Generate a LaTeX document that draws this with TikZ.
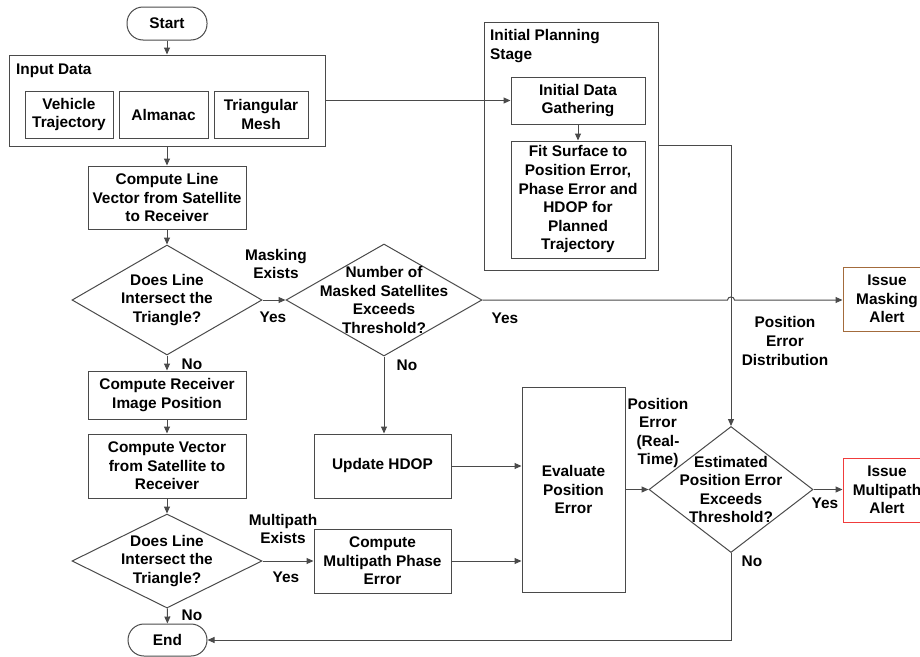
\documentclass[tikz,border=0pt]{standalone}
\usepackage{fontspec}
\setmainfont{Liberation Sans}
\usetikzlibrary{arrows.meta,shapes.geometric,calc}
\definecolor{linegray}{HTML}{4A4A4A}
\definecolor{alertbrown}{HTML}{A36B3C}
\definecolor{alertred}{HTML}{F03C3C}
\tikzset{
  every node/.style={font=\fontsize{15.4}{18.6}\selectfont\bfseries, text=black},
  box/.style={draw=linegray, line width=1pt, rectangle, inner sep=0pt, align=center},
  term/.style={draw=linegray, line width=1pt, rectangle, rounded corners=16pt, inner sep=0pt},
  decision/.style={draw=linegray, line width=1pt, diamond, inner sep=0pt},
  lbl/.style={align=center, inner sep=0pt},
  flow/.style={draw=linegray, line width=1pt, -{Triangle[length=7pt,width=6pt]}},
  plain/.style={draw=linegray, line width=1pt}
}
\begin{document}
\begin{tikzpicture}[x=1pt,y=-1pt]
\useasboundingbox (0,0) rectangle (920,656);
\clip (0,0) rectangle (920,656);

% terminals
\node[term, minimum width=80pt, minimum height=33pt] (start) at (167,23.5) {Start};
\node[term, minimum width=79pt, minimum height=32pt] (endn) at (167.5,640) {End};

% input data group
\node[box, minimum width=316pt, minimum height=91pt] (input) at (167,100.5) {};
\node[lbl, anchor=base west] (inputlbl) at (16,74) {Input Data};
\node[box, minimum width=88pt, minimum height=47pt] (veh) at (69,114.5) {Vehicle\\Trajectory};
\node[box, minimum width=89pt, minimum height=47pt] (alm) at (163.5,114.5) {Almanac};
\node[box, minimum width=94pt, minimum height=47pt] (tri) at (261,114.5) {Triangular\\Mesh};

% left column
\node[box, minimum width=158pt, minimum height=63pt] (cline) at (167,197.5) {Compute Line\\Vector from Satellite\\to Receiver};
\node[decision, minimum width=190pt, minimum height=110pt,
      label={[lbl]center:{Does Line\\Intersect the\\Triangle?}}] (d1) at (167,300) {};
\node[box, minimum width=158pt, minimum height=48pt] (recv) at (167,395) {Compute Receiver\\Image Position};
\node[box, minimum width=158pt, minimum height=64pt] (cvec) at (167,466) {Compute Vector\\from Satellite to\\Receiver};
\node[decision, minimum width=190pt, minimum height=94pt,
      label={[lbl]center:{Does Line\\Intersect the\\Triangle?}}] (d4) at (167,561) {};

% middle column
\node[decision, minimum width=196pt, minimum height=112pt,
      label={[lbl]center:{Number of\\Masked Satellites\\Exceeds\\Threshold?}}] (d2) at (384,300) {};
\node[box, minimum width=137pt, minimum height=64pt] (hdop) at (382.5,466) {Update HDOP};
\node[box, minimum width=137pt, minimum height=64pt] (mpe) at (382.5,561) {Compute\\Multipath Phase\\Error};
\node[box, minimum width=103pt, minimum height=205pt] (eval) at (573.5,489.5) {Evaluate\\Position\\Error};

% initial planning stage
\node[box, minimum width=174pt, minimum height=248pt] (ips) at (571,146) {};
\node[lbl, anchor=base west, align=left] (ipslbl) at (490,59) {Initial Planning\\Stage};
\node[box, minimum width=134pt, minimum height=47pt] (idg) at (578,100.5) {Initial Data\\Gathering};
\node[box, minimum width=134pt, minimum height=117pt] (fit) at (578,199.5) {Fit Surface to\\Position Error,\\Phase Error and\\HDOP for\\Planned\\Trajectory};

% right column
\node[decision, minimum width=164pt, minimum height=126pt,
      label={[lbl]center:{Estimated\\Position Error\\Exceeds\\Threshold?}}] (d3) at (731,489.5) {};
\node[box, draw=alertbrown, minimum width=88pt, minimum height=64pt] (mask) at (887,299) {Issue\\Masking\\Alert};
\node[box, draw=alertred, minimum width=88pt, minimum height=64pt] (mpal) at (887,490) {Issue\\Multipath\\Alert};

% connectors
\draw[flow] (start) -- (input);
\draw[flow] (input) -- (cline);
\draw[flow] (cline) -- (d1);
\draw[flow] (d1) -- (d2);
\draw[flow] (d1) -- (recv);
\draw[flow] (recv) -- (cvec);
\draw[flow] (cvec) -- (d4);
\draw[flow] (d4) -- (endn);
\draw[flow] (d4) -- (mpe);
\draw[flow] (d2.south) -- (d2.south |- hdop.north);
\draw[flow] (hdop.east) -- (hdop.east -| eval.west);
\draw[flow] (mpe.east) -- (mpe.east -| eval.west);
\draw[flow] (eval.east |- d3.west) -- (d3.west);
\draw[flow] (d3.east) -- (d3.east -| mpal.west);
\draw[flow] (d3.south) |- (endn.east);
\draw[flow] (input.east) -- (idg.west);
\draw[flow] (idg) -- (fit);
\coordinate (turn) at (d3.north |- 0,145);
\draw[flow] (ips.east |- turn) -- (turn) -- (d3.north);
% masking branch hops over the vertical connector
\draw[flow] (d2.east) -- ($(d3.north |- d2.east)+(-3.5,0)$)
  .. controls ($(d3.north |- d2.east)+(-3.5,-4)$) and ($(d3.north |- d2.east)+(3.5,-4)$)
  .. ($(d3.north |- d2.east)+(3.5,0)$) -- (mask.west |- d2.east);

% connector labels
\node[lbl] (lmask) at (276,264) {Masking\\Exists};
\node[lbl] (lyes1) at (273,317) {Yes};
\node[lbl] (lno1) at (192,364) {No};
\node[lbl] (lno2) at (407,365) {No};
\node[lbl] (lyes2) at (505,318) {Yes};
\node[lbl] (lped) at (785,341) {Position\\Error\\Distribution};
\node[lbl] (lpert) at (658,433) {Position\\Error\\(Real-\\Time)};
\node[lbl] (lyes3) at (825,503) {Yes};
\node[lbl] (lno3) at (752,561) {No};
\node[lbl] (lmp) at (283,529) {Multipath\\Exists};
\node[lbl] (lyes4) at (286,577) {Yes};
\node[lbl] (lno4) at (192,615) {No};
\end{tikzpicture}
\end{document}
